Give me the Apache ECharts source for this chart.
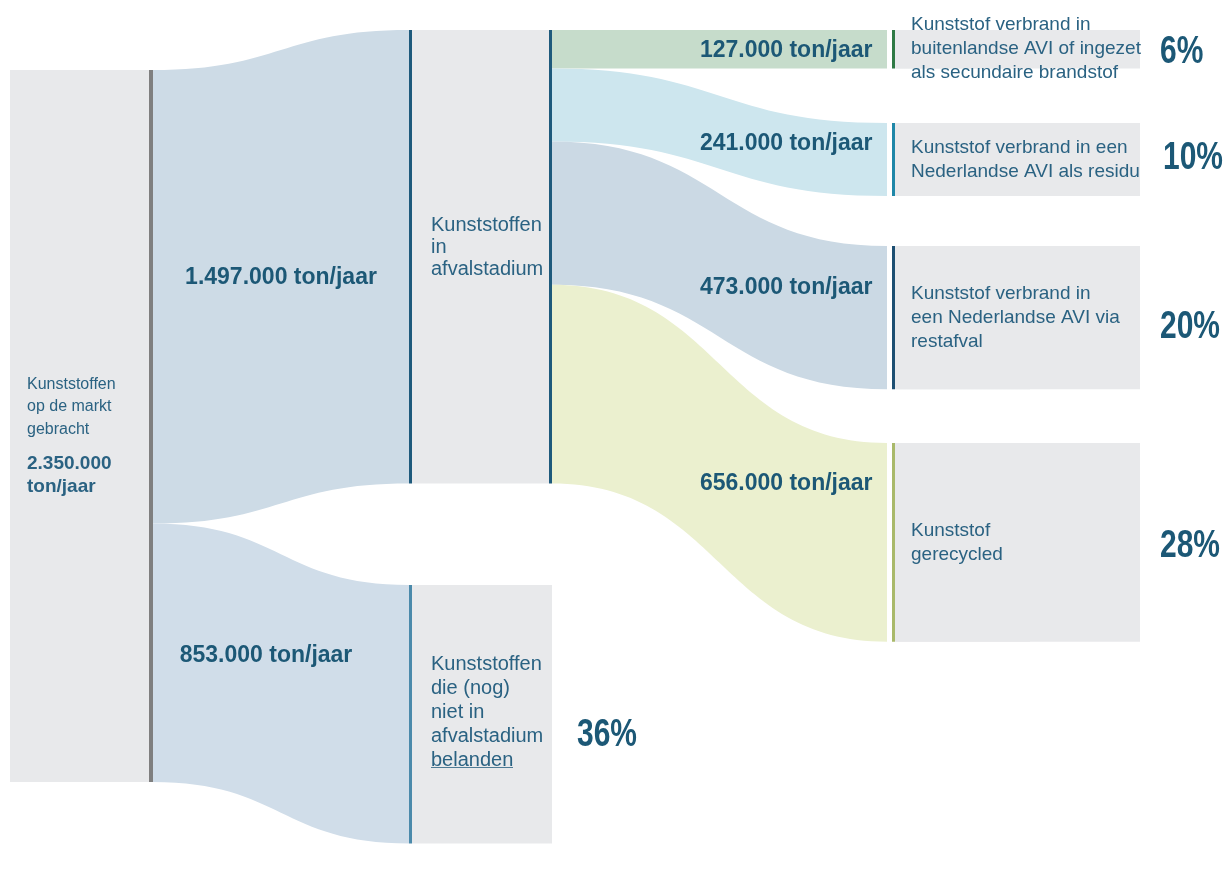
<!DOCTYPE html>
<html>
<head>
<meta charset="utf-8">
<script src="https://cdn.jsdelivr.net/npm/echarts@6/dist/echarts.min.js"></script>
<style>
  html, body { margin: 0; padding: 0; background: #fff; }
  #chart { width: 1227px; height: 888px; }
</style>
</head>
<body>
<div id="chart"></div>
<script>
// ---- data ----
const nodeNames = [
  'Kunststoffen op de markt gebracht',
  'Kunststoffen in afvalstadium',
  'Kunststoffen die (nog) niet in afvalstadium belanden',
  'Kunststof verbrand in buitenlandse AVI of ingezet als secundaire brandstof',
  'Kunststof verbrand in een Nederlandse AVI als residu',
  'Kunststof verbrand in een Nederlandse AVI via restafval',
  'Kunststof gerecycled'
];
const nodeLabels = [
  'Kunststoffen\nop de markt\ngebracht',
  'Kunststoffen\nin\nafvalstadium',
  'Kunststoffen\ndie (nog)\nniet in\nafvalstadium\n{u|belanden}',
  'Kunststof verbrand in\nbuitenlandse AVI of ingezet\nals secundaire brandstof',
  'Kunststof verbrand in een\nNederlandse AVI als residu',
  'Kunststof verbrand in\neen Nederlandse AVI via\nrestafval',
  'Kunststof\ngerecycled'
];
const linkSources = [0, 0, 1, 1, 1, 1];
const linkTargets = [1, 2, 3, 4, 5, 6];
const linkValues = [1497000, 853000, 127000, 241000, 473000, 656000];
const totalValue = 2350000;
const shareLabels = ['6%', '10%', '20%', '28%', '36%'];

// ---- layout / style ----
const W = 1227, H = 752, NODE_W = 143, NODE_GAP = 10;
const nodePos = [[10, 70], [409, 30], [409, 585], [887, 30], [887, 123], [887, 246], [887, 443]];
const barColors = ['#7f7f7f', '#1e5a7c', '#4b8aab', '#2f7a45', '#1f87a8', '#1d4f72', '#a9b96a'];
const barSides = ['right', 'both', 'left', 'gap', 'gap', 'gap', 'gap'];
const linkColors = ['#cddbe6', '#d0dde9', '#c6dccb', '#cde6ee', '#cbd9e4', '#ebf0cf'];
const linkLabelOffsets = [[0, 1], [-15, -28], [153, 1], [153, 11], [153, 22], [153, 20]];
const sharePos = [[1160, 52], [1163, 158], [1160, 327], [1160, 546], [577, 735]];

const GRAY = '#e8e9eb';
const FONT = "'Liberation Sans', Arial, sans-serif";
const TEXT = '#2a6282';
const DARK = '#1c5876';

function fmt(v) {
  return String(v).replace(/\B(?=(\d{3})+(?!\d))/g, '.');
}

function barFill(color, side) {
  const a = 3 / NODE_W, b = 1 - 4 / NODE_W, g1 = 5 / NODE_W, g2 = 8 / NODE_W;
  let stops;
  if (side === 'right') stops = [[0, GRAY], [b, GRAY], [b, color], [1, color]];
  else if (side === 'both') stops = [[0, color], [a, color], [a, GRAY], [1 - a, GRAY], [1 - a, color], [1, color]];
  else if (side === 'left') stops = [[0, color], [a, color], [a, GRAY], [1, GRAY]];
  else stops = [[0, '#fff'], [g1, '#fff'], [g1, color], [g2, color], [g2, GRAY], [1, GRAY]];
  return new echarts.graphic.LinearGradient(0, 0, 1, 0,
    stops.map(s => ({ offset: s[0], color: s[1] })));
}

// tiny image used as an underline behind a rich text token
const underline = document.createElement('canvas');
underline.width = 4; underline.height = 24;
const uctx = underline.getContext('2d');
uctx.fillStyle = TEXT;
uctx.fillRect(0, 20, 4, 1);

function buildNodes(heights) {
  return nodeNames.map((name, i) => {
    const item = {
      name: name,
      localX: nodePos[i][0] / W,
      localY: nodePos[i][1] / H,
      itemStyle: { color: barFill(barColors[i], barSides[i]), borderWidth: 0 }
    };
    if (i === 0) {
      item.value = totalValue;
      item.label = {
        position: 'insideLeft', distance: 17,
        fontSize: 16, lineHeight: 22.5,
        offset: [0, 10],
        formatter: nodeLabels[0] + '\n{s| }\n{b|' + fmt(totalValue) + '}\n{b|ton/jaar}',
        rich: {
          s: { fontSize: 6, lineHeight: 12 },
          b: { fontSize: 19, lineHeight: 23, fontWeight: 'bold', color: TEXT, fontFamily: FONT }
        }
      };
    } else if (i < 3) {
      item.label = {
        position: 'insideLeft', distance: 22,
        fontSize: 20, lineHeight: i === 1 ? 22 : 24,
        offset: i === 1 ? [0, -9] : [0, -2],
        formatter: nodeLabels[i],
        rich: {
          u: {
            fontSize: 20, lineHeight: 24, color: TEXT, fontFamily: FONT,
            backgroundColor: { image: underline }
          }
        }
      };
    } else {
      item.label = {
        position: 'insideLeft', distance: 9,
        width: 229, height: heights ? heights[i] : 10,
        padding: [0, 0, 0, 15],
        backgroundColor: GRAY,
        overflow: 'none',
        fontSize: 19, lineHeight: 24,
        formatter: nodeLabels[i]
      };
    }
    return item;
  });
}

const links = linkValues.map((v, i) => ({
  source: nodeNames[linkSources[i]],
  target: nodeNames[linkTargets[i]],
  value: v,
  lineStyle: { color: linkColors[i], opacity: 1 },
  edgeLabel: { offset: linkLabelOffsets[i], align: i < 2 ? 'center' : 'right' }
}));

const chart = echarts.init(document.getElementById('chart'));
const option = {
  animation: false,
  backgroundColor: '#fff',
  graphic: shareLabels.map((t, i) => ({
    type: 'text',
    x: sharePos[i][0],
    y: sharePos[i][1],
    scaleY: 1.3,
    style: {
      text: t,
      fill: DARK,
      font: 'bold 30px ' + FONT,
      verticalAlign: 'middle'
    }
  })),
  series: [{
    type: 'sankey',
    left: 0, top: 0, width: W, height: H,
    nodeWidth: NODE_W,
    nodeGap: NODE_GAP,
    layoutIterations: 0,
    draggable: false,
    emphasis: { disabled: true },
    label: {
      color: TEXT,
      fontFamily: FONT,
      fontSize: 19
    },
    edgeLabel: {
      show: true,
      color: DARK,
      fontFamily: FONT,
      fontWeight: 'bold',
      fontSize: 23,
      formatter: p => fmt(p.value) + ' ton/jaar'
    },
    lineStyle: { curveness: 0.5, opacity: 1 },
    data: buildNodes(null),
    links: links
  }]
};
chart.setOption(option);

// size the grey label boxes of the last column to the node heights echarts computed
const graph = chart.getModel().getSeriesByIndex(0).getGraph();
const heights = nodeNames.map((n, i) => graph.getNodeByIndex(i).getLayout().dy);
option.series[0].data = buildNodes(heights);
chart.setOption(option);
</script>
</body>
</html>
